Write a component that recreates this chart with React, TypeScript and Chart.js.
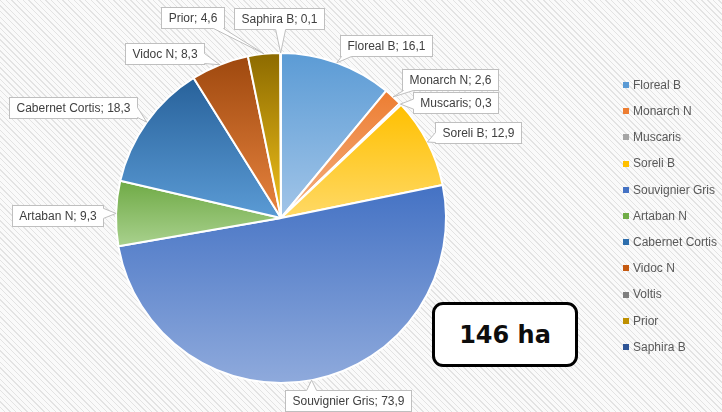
import React, { useEffect, useRef } from "react";
import { Chart, registerables } from "chart.js";

Chart.register(...registerables);

// ---------- data ----------
const categories = [
  "Floreal B",
  "Monarch N",
  "Muscaris",
  "Soreli B",
  "Souvignier Gris",
  "Artaban N",
  "Cabernet Cortis",
  "Vidoc N",
  "Voltis",
  "Prior",
  "Saphira B",
];
const surfaces = [16.1, 2.6, 0.3, 12.9, 73.9, 9.3, 18.3, 8.3, 0, 4.6, 0.1];
const totalLabel = "146 ha";

// ---------- styles ----------
const topColors = [
  "#5B9BD5", "#ED7D31", "#A5A5A5", "#FFC000", "#4472C4", "#6FAA45",
  "#27619A", "#9E480E", "#636363", "#8C6A00", "#264478",
];
const bottomColors = [
  "#A2C5E8", "#F4B183", "#CACACA", "#FFD966", "#8FAADC", "#A9D18E",
  "#5B9BD5", "#E8843F", "#A5A5A5", "#F2C21B", "#4472C4",
];
const legendColors = [
  "#5B9BD5", "#ED7D31", "#A5A5A5", "#FFC000", "#4472C4", "#70AD47",
  "#2E6EAD", "#C55A11", "#7F7F7F", "#BF9000", "#2F5597",
];
// label-box centre, relative to pie centre, in units of the pie radius
const labelOffsets: ([number, number] | null)[] = [
  [0.636, -1.048],
  [1.024, -0.839],
  [1.055, -0.7],
  [1.194, -0.521],
  [0.406, 1.109],
  [-1.352, -0.015],
  [-1.261, -0.667],
  [-0.709, -1.0],
  null,
  [-0.539, -1.218],
  [-0.012, -1.212],
];

const fmt = (v: number) => v.toFixed(1).replace(".", ",");
const clamp = (v: number, a: number, b: number) => Math.max(a, Math.min(b, v));
const FONT = "12px 'Liberation Sans', Arial, sans-serif";

function sliceGradient(context: any) {
  const chart = context.chart;
  const i = context.dataIndex;
  const area = chart.chartArea;
  if (!area) return legendColors[i];
  const data = chart.data.datasets[0].data as number[];
  const total = data.reduce((a, b) => a + b, 0);
  let before = 0;
  for (let k = 0; k < i; k++) before += data[k];
  const a0 = -Math.PI / 2 + (2 * Math.PI * before) / total;
  const a1 = a0 + (2 * Math.PI * data[i]) / total;
  const cy = (area.top + area.bottom) / 2;
  const r = Math.min(area.right - area.left, area.bottom - area.top) / 2;
  let ymin = cy;
  let ymax = cy;
  const consider = (a: number) => {
    const y = cy + r * Math.sin(a);
    ymin = Math.min(ymin, y);
    ymax = Math.max(ymax, y);
  };
  consider(a0);
  consider(a1);
  for (let k = -1; k <= 3; k++) {
    const a = (k * Math.PI) / 2;
    if (a > a0 && a < a1) consider(a);
  }
  if (ymax - ymin < 1) ymax = ymin + 1;
  const g = chart.ctx.createLinearGradient(0, ymin, 0, ymax);
  g.addColorStop(0, topColors[i]);
  g.addColorStop(1, bottomColors[i]);
  return g;
}

const calloutPlugin = {
  id: "callouts",
  afterDatasetsDraw(chart: any) {
    const ctx = chart.ctx as CanvasRenderingContext2D;
    const meta = chart.getDatasetMeta(0);
    const values = chart.data.datasets[0].data as number[];
    const labels = chart.data.labels as string[];
    ctx.save();
    ctx.font = FONT;
    meta.data.forEach((arc: any, i: number) => {
      const off = labelOffsets[i];
      if (!off || !values[i]) return;
      const { x, y, startAngle, endAngle, outerRadius } = arc.getProps(
        ["x", "y", "startAngle", "endAngle", "outerRadius"],
        true
      );
      const mid = (startAngle + endAngle) / 2;
      const ax = x + Math.cos(mid) * outerRadius;
      const ay = y + Math.sin(mid) * outerRadius;
      const text = `${labels[i]}; ${fmt(values[i])}`;
      const tw = ctx.measureText(text).width;
      const w = Math.round(tw + 14);
      const h = 21;
      const lx = x + off[0] * outerRadius;
      const ly = y + off[1] * outerRadius;
      const left = Math.round(lx - w / 2) + 0.5;
      const top = Math.round(ly - h / 2) + 0.5;
      const right = left + w;
      const bottom = top + h;

      // box
      ctx.fillStyle = "#ffffff";
      ctx.strokeStyle = "#bfbfbf";
      ctx.lineWidth = 1;
      ctx.fillRect(left, top, w, h);
      ctx.strokeRect(left, top, w, h);

      // pointer wedge
      const px = clamp(ax, left, right);
      const py = clamp(ay, top, bottom);
      const dx = ax - px;
      const dy = ay - py;
      if (Math.hypot(dx, dy) > 3) {
        const hw = 5;
        let b1: [number, number];
        let b2: [number, number];
        let in1: [number, number];
        let in2: [number, number];
        if (Math.abs(dx) > Math.abs(dy) * 2 || dy === 0) {
          const ex = dx < 0 ? left : right;
          const inward = dx < 0 ? 1.5 : -1.5;
          const yc = clamp(ay, top + hw + 1, bottom - hw - 1);
          b1 = [ex, yc - hw];
          b2 = [ex, yc + hw];
          in1 = [ex + inward, yc - hw];
          in2 = [ex + inward, yc + hw];
        } else {
          const ey = dy < 0 ? top : bottom;
          const inward = dy < 0 ? 1.5 : -1.5;
          const xc = clamp(ax, left + hw + 1, right - hw - 1);
          b1 = [xc - hw, ey];
          b2 = [xc + hw, ey];
          in1 = [xc - hw, ey + inward];
          in2 = [xc + hw, ey + inward];
        }
        ctx.beginPath();
        ctx.moveTo(in1[0], in1[1]);
        ctx.lineTo(b1[0], b1[1]);
        ctx.lineTo(ax, ay);
        ctx.lineTo(b2[0], b2[1]);
        ctx.lineTo(in2[0], in2[1]);
        ctx.closePath();
        ctx.fillStyle = "#ffffff";
        ctx.fill();
        ctx.beginPath();
        ctx.moveTo(b1[0], b1[1]);
        ctx.lineTo(ax, ay);
        ctx.lineTo(b2[0], b2[1]);
        ctx.strokeStyle = "#bfbfbf";
        ctx.stroke();
      }

      ctx.fillStyle = "#404040";
      ctx.textAlign = "center";
      ctx.textBaseline = "middle";
      ctx.fillText(text, (left + right) / 2, (top + bottom) / 2 + 0.5);
    });
    ctx.restore();
  },
};

const legendPlugin = {
  id: "sideLegend",
  afterDraw(chart: any) {
    const ctx = chart.ctx as CanvasRenderingContext2D;
    const labels = chart.data.labels as string[];
    ctx.save();
    ctx.font = FONT;
    ctx.textAlign = "left";
    ctx.textBaseline = "middle";
    labels.forEach((lab, i) => {
      const yc = 85 + i * 26.2;
      ctx.fillStyle = legendColors[i];
      ctx.fillRect(623, Math.round(yc) - 3, 6, 6);
      ctx.fillStyle = "#595959";
      ctx.fillText(lab, 633, yc + 0.5);
    });
    ctx.restore();
  },
};

export default function App() {
  const ref = useRef<HTMLCanvasElement | null>(null);

  useEffect(() => {
    if (!ref.current) return;
    const chart = new Chart(ref.current, {
      type: "pie",
      data: {
        labels: categories,
        datasets: [
          {
            data: surfaces,
            backgroundColor: sliceGradient as any,
            borderColor: "#ffffff",
            borderWidth: 2,
          },
        ],
      },
      options: {
        animation: false,
        responsive: false,
        events: [],
        layout: { padding: { left: 115, right: 275, top: 52, bottom: 28 } },
        plugins: {
          legend: { display: false },
          tooltip: { enabled: false },
          title: { display: false },
        },
      },
      plugins: [calloutPlugin, legendPlugin],
    });
    return () => chart.destroy();
  }, []);

  return (
    <div
      style={{
        position: "fixed",
        left: 0,
        top: 0,
        width: 722,
        height: 412,
        overflow: "hidden",
        background:
          "repeating-linear-gradient(45deg, #fafafa 0px, #fafafa 3px, #e3e3e3 3px, #e3e3e3 4px)",
      }}
    >
      <canvas ref={ref} width={722} height={412} style={{ display: "block" }} />
      <div
        style={{
          position: "absolute",
          left: 432,
          top: 302,
          width: 146,
          height: 65,
          boxSizing: "border-box",
          border: "3px solid #000",
          borderRadius: 11,
          background: "#fff",
          display: "flex",
          alignItems: "center",
          justifyContent: "center",
          font: "bold 24px 'DejaVu Sans', Verdana, sans-serif",
          color: "#0d0d0d",
        }}
      >
        {totalLabel}
      </div>
    </div>
  );
}
